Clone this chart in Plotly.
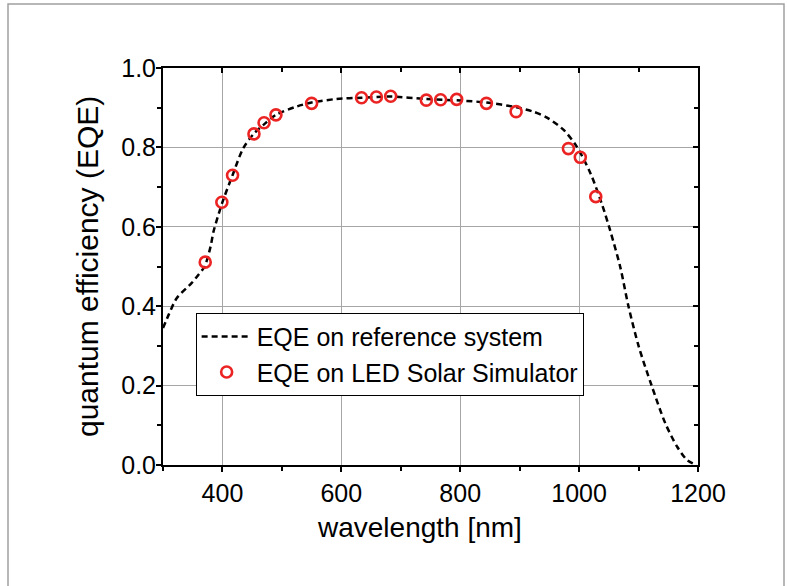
import plotly.graph_objects as go

# Reference-system EQE (dashed curve)
ref_wavelength = [300, 310, 323, 348, 360, 370, 380, 385, 400, 417, 435, 453, 470, 490,
                  525, 550, 592, 634, 683, 743, 800, 844, 895, 923, 946, 974, 996,
                  1019, 1038, 1052, 1069, 1083, 1100, 1122, 1145, 1165, 1182, 1198]
ref_eqe = [0.345, 0.38, 0.42, 0.458, 0.48, 0.50, 0.55, 0.588, 0.662, 0.73, 0.798, 0.835,
           0.858, 0.882, 0.903, 0.913, 0.922, 0.925, 0.928, 0.922, 0.918, 0.913, 0.901,
           0.89, 0.875, 0.844, 0.802, 0.735, 0.659, 0.592, 0.50, 0.40, 0.30, 0.20,
           0.105, 0.046, 0.012, 0.0]

# LED Solar Simulator EQE (open circles)
led_wavelength = [371, 399, 417, 453, 470, 490, 550, 634, 659, 683, 743, 767, 794, 844,
                  894, 982, 1002, 1028]
led_eqe = [0.511, 0.662, 0.730, 0.834, 0.862, 0.882, 0.911, 0.925, 0.927, 0.929, 0.919,
           0.920, 0.921, 0.911, 0.890, 0.797, 0.775, 0.676]

x_range = [300, 1200]
y_range = [0, 1.0]
x_title = "wavelength [nm]"
y_title = "quantum efficiency (EQE)"

FONT = "Liberation Sans, Arial, sans-serif"
FS = 25

fig = go.Figure()
fig.add_trace(go.Scatter(
    x=ref_wavelength, y=ref_eqe, mode="lines",
    line=dict(color="black", width=2.5, dash="6px,4px", shape="spline", smoothing=0.8),
    name="EQE on reference system"))
fig.add_trace(go.Scatter(
    x=led_wavelength, y=led_eqe, mode="markers",
    marker=dict(symbol="circle-open", size=11, color="rgb(235,35,35)",
                line=dict(width=2.6, color="rgb(235,35,35)")),
    name="EQE on LED Solar Simulator"))
# empty trace to carry mirrored (top/right) axes
fig.add_trace(go.Scatter(x=[], y=[], xaxis="x2", yaxis="y2", showlegend=False,
                         hoverinfo="skip"))

axis_common = dict(showline=True, linecolor="black", linewidth=2, zeroline=False,
                   tickcolor="black", tickwidth=2,
                   tickfont=dict(family=FONT, size=FS, color="black"))

fig.update_layout(
    width=787, height=586,
    margin=dict(l=163, r=89, t=68, b=121),
    paper_bgcolor="white", plot_bgcolor="white",
    font=dict(family=FONT, size=FS, color="black"),
    xaxis=dict(range=x_range, tick0=0, dtick=200, ticks="outside", ticklen=5,
               showgrid=True, gridcolor="#a6a6a6", gridwidth=1,
               minor=dict(dtick=100, ticks="outside", ticklen=4, tickwidth=2,
                          tickcolor="black", showgrid=False),
               **axis_common),
    yaxis=dict(range=y_range, tick0=0, dtick=0.2, tickformat=".1f", ticks="outside",
               ticklen=5, showgrid=True, gridcolor="#a6a6a6", gridwidth=1,
               ticklabelstandoff=-5,
               minor=dict(dtick=0.1, ticks="outside", ticklen=4, tickwidth=2,
                          tickcolor="black", showgrid=False),
               **axis_common),
    xaxis2=dict(range=x_range, overlaying="x", side="top", anchor="y", tick0=0,
                dtick=200, ticks="inside", ticklen=5, showticklabels=False,
                showgrid=False,
                minor=dict(dtick=100, ticks="inside", ticklen=4, tickwidth=2,
                           tickcolor="black"),
                **axis_common),
    yaxis2=dict(range=y_range, overlaying="y", side="right", anchor="x", tick0=0,
                dtick=0.2, ticks="inside", ticklen=5, showticklabels=False,
                showgrid=False,
                minor=dict(dtick=0.1, ticks="inside", ticklen=4, tickwidth=2,
                           tickcolor="black"),
                **axis_common),
    legend=dict(x=0.061, y=0.3836, xanchor="left", yanchor="top",
                bgcolor="white", bordercolor="black", borderwidth=1,
                font=dict(family=FONT, size=FS, color="black"),
                itemwidth=50, tracegroupgap=0),
    showlegend=True,
    annotations=[
        dict(text=x_title, xref="paper", yref="paper",
             x=(419 - 163) / 535, y=(465 - 527) / 397, xanchor="center", yanchor="middle",
             showarrow=False, font=dict(family=FONT, size=28, color="black")),
        dict(text=y_title, xref="paper", yref="paper", textangle=-90,
             x=(87 - 163) / 535, y=(465 - 267) / 397, xanchor="center", yanchor="middle",
             showarrow=False, font=dict(family=FONT, size=30, color="black")),
    ],
    shapes=[dict(type="rect", xref="paper", yref="paper",
                 x0=(8 - 163) / 535, x1=(784 - 163) / 535,
                 y0=-0.4, y1=(465 - 4) / 397,
                 line=dict(color="#a0a0a0", width=1.5), layer="below")],
)

fig.write_html("out.html", config={"displayModeBar": False},
               post_script="document.body.style.margin='0px';document.body.style.overflow='hidden';")
